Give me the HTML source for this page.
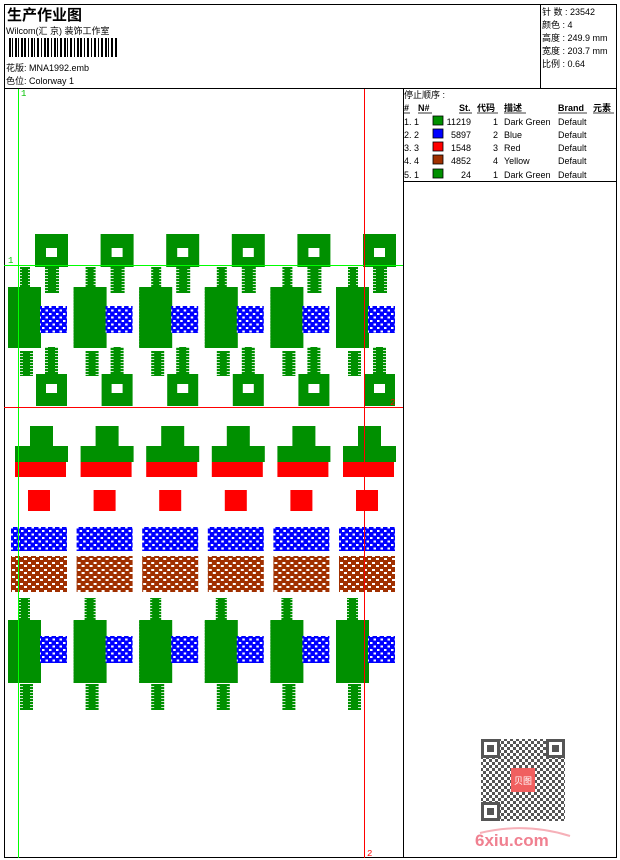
<!DOCTYPE html>
<html><head><meta charset="utf-8"><style>
body{margin:0;background:#fff;width:620px;height:860px;overflow:hidden;font-family:"Liberation Sans","Noto Sans CJK SC",sans-serif}
svg{position:absolute;left:0;top:0}
.t{font-family:"Liberation Sans","Noto Sans CJK SC",sans-serif;font-size:9px;fill:#000}
</style></head><body>
<svg width="620" height="860" viewBox="0 0 620 860" xmlns="http://www.w3.org/2000/svg">
<defs>
<pattern id="gs" width="4" height="3" patternUnits="userSpaceOnUse"><rect width="4" height="2.2" fill="#009000"/></pattern>
<pattern id="bc" width="7" height="7" patternUnits="userSpaceOnUse"><rect width="7" height="7" fill="#0000ff"/><rect x="3.5" y="1.5" width="2.5" height="2" fill="#fff"/><rect x="0" y="5" width="2.5" height="2" fill="#fff"/></pattern>
<pattern id="br" width="8" height="7" patternUnits="userSpaceOnUse"><rect width="8" height="7" fill="#a03000"/><rect x="4" y="2" width="3" height="2" fill="#fff"/><rect x="0" y="5" width="3" height="2" fill="#fff"/></pattern>
<pattern id="qr" width="6" height="6" patternUnits="userSpaceOnUse"><rect width="3" height="3" fill="#555"/><rect x="3" y="3" width="3" height="3" fill="#555"/></pattern>
<clipPath id="cl"><rect x="5" y="89" width="392" height="768"/></clipPath>
<g id="m">
 <rect x="35" y="234" width="33" height="33" fill="#009000"/>
 <rect x="46" y="248" width="11" height="9" fill="#fff"/>
 <rect x="45" y="267" width="14" height="26" fill="url(#gs)"/><rect x="48" y="267" width="8" height="26" fill="#009000"/>
 <rect x="20" y="267" width="10" height="20" fill="url(#gs)"/><rect x="22" y="267" width="6" height="20" fill="#009000"/>
 <rect x="8" y="287" width="33" height="61" fill="#009000"/>
 <rect x="8" y="287" width="6" height="61" fill="url(#gs)"/>
 <rect x="40" y="306" width="27" height="27" fill="url(#bc)"/>
 <rect x="20" y="351" width="13" height="25" fill="url(#gs)"/><rect x="23" y="351" width="7" height="25" fill="#009000"/>
 <rect x="45" y="347" width="13" height="27" fill="url(#gs)"/><rect x="48" y="347" width="7" height="27" fill="#009000"/>
 <rect x="36" y="374" width="31" height="32" fill="#009000"/>
 <rect x="46" y="384" width="11" height="9" fill="#fff"/>
 <rect x="30" y="426" width="23" height="20" fill="#009000"/>
 <rect x="15" y="446" width="53" height="16" fill="#009000"/>
 <rect x="15" y="462" width="51" height="15" fill="#ff0000"/>
 <rect x="28" y="490" width="22" height="21" fill="#ff0000"/>
 <rect x="11" y="527" width="56" height="24" fill="url(#bc)"/>
 <rect x="11" y="556" width="56" height="36" fill="url(#br)"/>
 <rect x="19" y="598" width="11" height="22" fill="url(#gs)"/><rect x="21" y="598" width="7" height="22" fill="#009000"/>
 <rect x="8" y="620" width="33" height="63" fill="#009000"/>
 <rect x="8" y="620" width="6" height="63" fill="url(#gs)"/>
 <rect x="40" y="636" width="27" height="27" fill="url(#bc)"/>
 <rect x="20" y="684" width="13" height="26" fill="url(#gs)"/><rect x="23" y="684" width="7" height="26" fill="#009000"/>
</g>
</defs>
<g clip-path="url(#cl)">
<use href="#m"/><use href="#m" x="65.6"/><use href="#m" x="131.2"/><use href="#m" x="196.8"/><use href="#m" x="262.4"/><use href="#m" x="328"/>
</g>
<rect x="4.5" y="4.5" width="612" height="853" fill="none" stroke="#000"/>
<line x1="4" y1="88.5" x2="617" y2="88.5" stroke="#000"/>
<line x1="540.5" y1="4" x2="540.5" y2="88" stroke="#000"/>
<line x1="403.5" y1="88" x2="403.5" y2="858" stroke="#000"/>
<line x1="403" y1="181.5" x2="617" y2="181.5" stroke="#000"/>
<line x1="18.5" y1="89" x2="18.5" y2="858" stroke="#00ff00"/>
<line x1="4" y1="265.5" x2="403" y2="265.5" stroke="#00ff00"/>
<line x1="364.5" y1="89" x2="364.5" y2="858" stroke="#ff0000"/>
<line x1="4" y1="407.5" x2="403" y2="407.5" stroke="#ff0000"/>
<text x="21" y="96" font-size="9" fill="#00c000" font-family="Liberation Mono">1</text>
<text x="8" y="263" font-size="9" fill="#00c000" font-family="Liberation Mono">1</text>
<text x="390" y="405" font-size="9" fill="#ff0000" font-family="Liberation Mono">2</text>
<text x="367" y="856" font-size="9" fill="#ff0000" font-family="Liberation Mono">2</text>
<text x="7" y="20" font-size="15" font-weight="bold" font-family="Noto Sans CJK SC,sans-serif">生产作业图</text>
<text class="t" x="6" y="34">Wilcom(汇 京) 装饰工作室</text>
<g fill="#000">
<rect x="9" y="38" width="2" height="19"/><rect x="12" y="38" width="1" height="19"/><rect x="15" y="38" width="2" height="19"/><rect x="18" y="38" width="1" height="19"/><rect x="21" y="38" width="2" height="19"/><rect x="24" y="38" width="2" height="19"/><rect x="28" y="38" width="1" height="19"/><rect x="31" y="38" width="2" height="19"/><rect x="34" y="38" width="1" height="19"/><rect x="37" y="38" width="2" height="19"/><rect x="41" y="38" width="1" height="19"/><rect x="44" y="38" width="2" height="19"/><rect x="47" y="38" width="2" height="19"/><rect x="51" y="38" width="1" height="19"/><rect x="54" y="38" width="2" height="19"/><rect x="57" y="38" width="1" height="19"/><rect x="60" y="38" width="2" height="19"/><rect x="64" y="38" width="2" height="19"/><rect x="67" y="38" width="1" height="19"/><rect x="70" y="38" width="2" height="19"/><rect x="74" y="38" width="1" height="19"/><rect x="77" y="38" width="2" height="19"/><rect x="80" y="38" width="2" height="19"/><rect x="84" y="38" width="1" height="19"/><rect x="87" y="38" width="2" height="19"/><rect x="91" y="38" width="1" height="19"/><rect x="94" y="38" width="2" height="19"/><rect x="98" y="38" width="1" height="19"/><rect x="101" y="38" width="2" height="19"/><rect x="105" y="38" width="2" height="19"/><rect x="108" y="38" width="1" height="19"/><rect x="111" y="38" width="2" height="19"/><rect x="115" y="38" width="2" height="19"/>
</g>
<text class="t" x="6" y="71">花版:  MNA1992.emb</text>
<text class="t" x="6" y="84">色位:  Colorway 1</text>
<text class="t" x="542" y="15">针 数 : 23542</text>
<text class="t" x="542" y="28">颜色 : 4</text>
<text class="t" x="542" y="41">高度 : 249.9 mm</text>
<text class="t" x="542" y="54">宽度 : 203.7 mm</text>
<text class="t" x="542" y="67">比例 : 0.64</text>
<text class="t" x="404" y="98">停止顺序 :</text>
<text class="t" x="404" y="111" font-weight="bold">#</text><text class="t" x="418" y="111" font-weight="bold">N#</text><text class="t" x="459" y="111" font-weight="bold">St.</text><text class="t" x="477" y="111" font-weight="bold">代码</text><text class="t" x="504" y="111" font-weight="bold">描述</text><text class="t" x="558" y="111" font-weight="bold">Brand</text><text class="t" x="593" y="111" font-weight="bold">元素</text>
<g stroke="#000" stroke-width="0.8"><line x1="404" y1="113" x2="410" y2="113"/><line x1="418" y1="113" x2="432" y2="113"/><line x1="459" y1="113" x2="472" y2="113"/><line x1="477" y1="113" x2="498" y2="113"/><line x1="504" y1="113" x2="526" y2="113"/><line x1="558" y1="113" x2="587" y2="113"/><line x1="593" y1="113" x2="614" y2="113"/></g>
<text class="t" x="404" y="125">1.  1</text><rect x="433" y="116" width="10" height="9" fill="#009000" stroke="#000" stroke-width="0.8"/><text class="t" x="471" y="125" text-anchor="end">11219</text><text class="t" x="498" y="125" text-anchor="end">1</text><text class="t" x="504" y="125">Dark Green</text><text class="t" x="558" y="125">Default</text>
<text class="t" x="404" y="138">2.  2</text><rect x="433" y="129" width="10" height="9" fill="#0000ff" stroke="#000" stroke-width="0.8"/><text class="t" x="471" y="138" text-anchor="end">5897</text><text class="t" x="498" y="138" text-anchor="end">2</text><text class="t" x="504" y="138">Blue</text><text class="t" x="558" y="138">Default</text>
<text class="t" x="404" y="151">3.  3</text><rect x="433" y="142" width="10" height="9" fill="#ff0000" stroke="#000" stroke-width="0.8"/><text class="t" x="471" y="151" text-anchor="end">1548</text><text class="t" x="498" y="151" text-anchor="end">3</text><text class="t" x="504" y="151">Red</text><text class="t" x="558" y="151">Default</text>
<text class="t" x="404" y="164">4.  4</text><rect x="433" y="155" width="10" height="9" fill="#a03000" stroke="#000" stroke-width="0.8"/><text class="t" x="471" y="164" text-anchor="end">4852</text><text class="t" x="498" y="164" text-anchor="end">4</text><text class="t" x="504" y="164">Yellow</text><text class="t" x="558" y="164">Default</text>
<text class="t" x="404" y="178">5.  1</text><rect x="433" y="169" width="10" height="9" fill="#009000" stroke="#000" stroke-width="0.8"/><text class="t" x="471" y="178" text-anchor="end">24</text><text class="t" x="498" y="178" text-anchor="end">1</text><text class="t" x="504" y="178">Dark Green</text><text class="t" x="558" y="178">Default</text>
<g fill="#555">
<rect x="481" y="739" width="84" height="82" fill="url(#qr)"/>
<rect x="481" y="739" width="19" height="19"/><rect x="484" y="742" width="13" height="13" fill="#fff"/><rect x="487" y="745" width="7" height="7"/>
<rect x="546" y="739" width="19" height="19"/><rect x="549" y="742" width="13" height="13" fill="#fff"/><rect x="552" y="745" width="7" height="7"/>
<rect x="481" y="802" width="19" height="19"/><rect x="484" y="805" width="13" height="13" fill="#fff"/><rect x="487" y="808" width="7" height="7"/>
</g>
<rect x="511" y="768" width="24" height="24" fill="#f06060"/>
<text x="523" y="784" font-size="9" fill="#fff" text-anchor="middle" font-family="Noto Sans CJK SC,sans-serif">贝图</text>
<path d="M480 833 Q525 822 570 836" stroke="#f6b0b8" stroke-width="2" fill="none"/>
<text x="475" y="846" font-size="17" font-weight="bold" fill="#f08090" font-family="Liberation Sans">6xiu.com</text>
</svg>
</body></html>
